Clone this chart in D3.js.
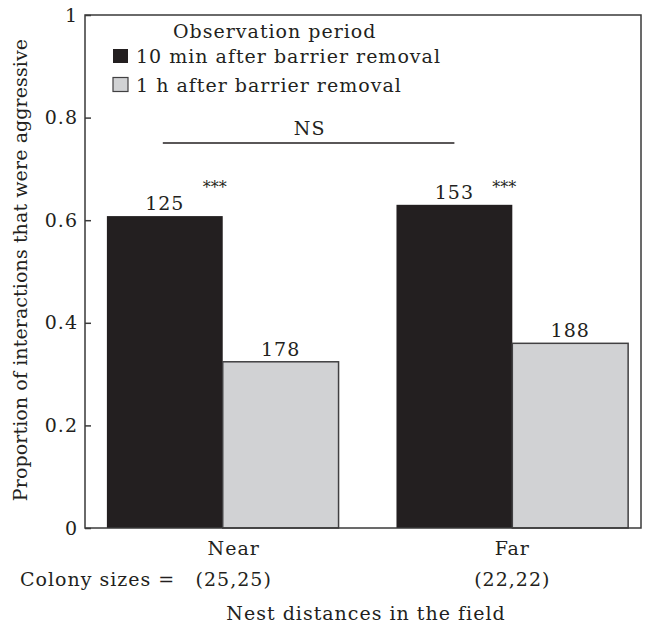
<!DOCTYPE html>
<html>
<head>
<meta charset="utf-8">
<script src="https://cdn.jsdelivr.net/npm/d3@7"></script>
<style>
  body { margin: 0; background: #fff; }
  svg text { font-family: "DejaVu Serif", serif; font-size: 19px; fill: #231f20; letter-spacing: 1px; }
</style>
</head>
<body>
<div id="draw"></div>
<script>
var categories = ['Near', 'Far'];
var colonySizes = ['(25,25)', '(22,22)'];
var periods = ['10 min after barrier removal', '1 h after barrier removal'];
var tenMin = [0.608, 0.630];
var oneHour = [0.324, 0.360];
var nTenMin = [125, 153];
var nOneHour = [178, 188];
var yTicks = [0, 0.2, 0.4, 0.6, 0.8, 1];

var colors = ['#231f20', '#d1d2d4'];

var W = 649, H = 631;
// plot frame edges (note: "top" would clash with window.top)
var pLeft = 85, pRight = 641, pTop = 15, pBottom = 528;

var svg = d3.select('#draw').append('svg')
    .attr('width', W).attr('height', H);

var x = d3.scaleBand().domain(categories)
    .range([pLeft, pRight])
    .paddingInner(0.2).paddingOuter(0.06).align(0.63);
var xInner = d3.scaleBand().domain([0, 1]).range([0, x.bandwidth()]);
var y = d3.scaleLinear().domain([0, 1]).range([pBottom, pTop]);

var series = [tenMin, oneHour];
var counts = [nTenMin, nOneHour];

var groups = svg.selectAll('g.grp')
    .data(categories)
    .enter().append('g')
    .attr('class', 'grp')
    .attr('transform', function(d){ return 'translate(' + x(d) + ',0)'; });

groups.each(function(cat, ci){
  var g = d3.select(this);
  [0, 1].forEach(function(si){
    var v = series[si][ci];
    g.append('rect')
      .attr('x', xInner(si))
      .attr('y', y(v))
      .attr('width', xInner.bandwidth())
      .attr('height', y(0) - y(v))
      .attr('fill', colors[si])
      .attr('stroke', si === 1 ? '#414042' : 'none')
      .attr('stroke-width', 1.5);
    g.append('text')
      .attr('x', xInner(si) + xInner.bandwidth() / 2)
      .attr('y', y(v) - 6)
      .attr('text-anchor', 'middle')
      .text(counts[si][ci]);
  });
  // significance stars
  g.append('text')
    .attr('x', xInner(0) + xInner.bandwidth() - 8)
    .attr('y', 193)
    .attr('text-anchor', 'middle')
    .style('font-size', '16px')
    .style('letter-spacing', '0px')
    .text('***');
});

// frame
svg.append('rect')
    .attr('x', pLeft).attr('y', pTop)
    .attr('width', pRight - pLeft).attr('height', pBottom - pTop)
    .attr('fill', 'none').attr('stroke', '#3a3a3a').attr('stroke-width', 1.5);

// y axis, ticks point inward
var yAxis = d3.axisLeft(y).tickValues(yTicks)
    .tickFormat(d3.format('~g'))
    .tickSizeInner(-6).tickSizeOuter(0).tickPadding(7);
var ya = svg.append('g').attr('transform', 'translate(' + pLeft + ',0)').call(yAxis);
ya.select('.domain').remove();
ya.selectAll('line').attr('stroke', '#3a3a3a').attr('stroke-width', 1.5);
ya.selectAll('text').attr('font-family', null).attr('font-size', null).attr('fill', null);

// NS bracket between the 10 min bars
var x1 = x('Near') + xInner(0) + xInner.bandwidth() / 2;
var x2 = x('Far') + xInner(0) + xInner.bandwidth() / 2;
svg.append('line')
    .attr('x1', x1 - 2).attr('x2', x2)
    .attr('y1', 143).attr('y2', 143)
    .attr('stroke', '#231f20').attr('stroke-width', 1.5);
svg.append('text')
    .attr('x', (x1 + x2) / 2).attr('y', 135)
    .attr('text-anchor', 'middle')
    .text('NS');

// category labels
svg.selectAll('text.cat')
    .data(categories)
    .enter().append('text')
    .attr('class', 'cat')
    .attr('x', function(d, i){ return x(d) + x.bandwidth() / 2 + (i === 0 ? 11 : 0); })
    .attr('y', 555)
    .attr('text-anchor', 'middle')
    .text(function(d){ return d; });

svg.selectAll('text.col')
    .data(colonySizes)
    .enter().append('text')
    .attr('class', 'col')
    .attr('x', function(d, i){ return x(categories[i]) + x.bandwidth() / 2 + (i === 0 ? 11 : 0); })
    .attr('y', 586)
    .attr('text-anchor', 'middle')
    .text(function(d){ return d; });

svg.append('text')
    .attr('x', 20).attr('y', 586)
    .text('Colony sizes =');

svg.append('text')
    .attr('x', (pLeft + pRight) / 2 + 3).attr('y', 620)
    .attr('text-anchor', 'middle')
    .text('Nest distances in the field');

svg.append('text')
    .attr('transform', 'translate(27,270) rotate(-90)')
    .attr('text-anchor', 'middle')
    .style('letter-spacing', '0.1px')
    .text('Proportion of interactions that were aggressive');

// legend
var lg = svg.append('g');
lg.append('text').attr('x', 173).attr('y', 38).text('Observation period');
periods.forEach(function(p, i){
  var ly = 63 + i * 28.5;
  lg.append('rect')
    .attr('x', 113).attr('y', ly - 14)
    .attr('width', 15).attr('height', 14)
    .attr('fill', colors[i])
    .attr('stroke', i === 1 ? '#414042' : 'none')
    .attr('stroke-width', 1.2);
  lg.append('text').attr('x', 136).attr('y', ly).text(p);
});
</script>
</body>
</html>
